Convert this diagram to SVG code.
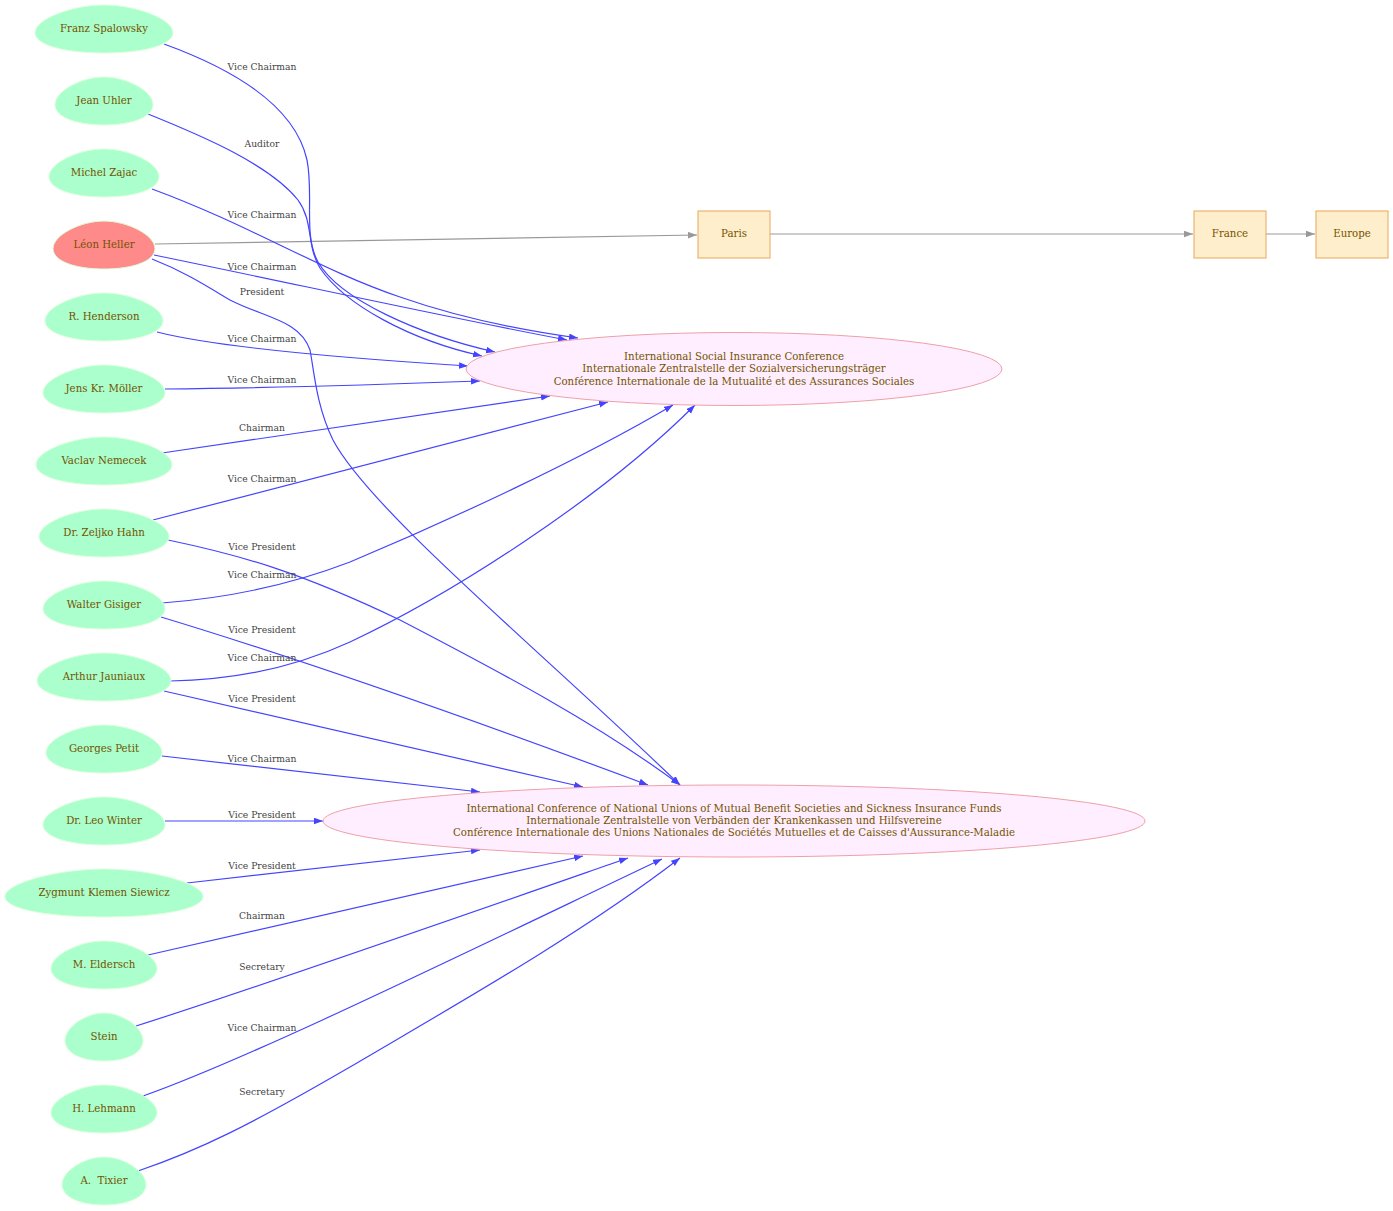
<svg xmlns="http://www.w3.org/2000/svg" xmlns:xlink="http://www.w3.org/1999/xlink" width="1393" height="1211" viewBox="0 0 1393 1211">
<style>
.nt{font-family:"DejaVu Serif","Liberation Serif",serif;font-size:10.2px;fill:#735300;text-anchor:middle}
.lb{font-family:"DejaVu Serif","Liberation Serif",serif;font-size:9.2px;fill:#444;text-anchor:middle}
.person{fill:#aaffcc;stroke:#ddffdd;stroke-width:1}
.hl{fill:#ff8a8a;stroke:#ddffdd;stroke-width:1}
.org{fill:#ffeeff;stroke:#eea0a8;stroke-width:1}
.place{fill:#ffeecc;stroke:#e8a858;stroke-width:1}
.e{fill:none;stroke:#4444ff;stroke-width:1.2;marker-end:url(#ab)}
.g{fill:none;stroke:#999;stroke-width:1.2;marker-end:url(#ag)}
</style>
<defs>
<path id="egg" vector-effect="non-scaling-stroke" d="M1,0.15 C1,-0.425 0.45,-1 0,-1 C-0.45,-1 -1,-0.425 -1,0.15 C-1,0.65 -0.6,1 0,1 C0.6,1 1,0.65 1,0.15 Z"/>
<marker id="ab" markerUnits="userSpaceOnUse" markerWidth="10" markerHeight="8" refX="9" refY="3.3" orient="auto"><path d="M0,0 L9,3.3 L0,6.6 Z" fill="#4444ff"/></marker>
<marker id="ag" markerUnits="userSpaceOnUse" markerWidth="10" markerHeight="8" refX="9" refY="3.3" orient="auto"><path d="M0,0 L9,3.3 L0,6.6 Z" fill="#999"/></marker>
</defs>
<rect width="1393" height="1211" fill="#fff"/>
<g id="connectors">
<path class="g" d="M155,244 L697,235"/>
<path class="g" d="M770,234 L1193,234"/>
<path class="g" d="M1266,234 L1315,234"/>
<path class="e" d="M164,44 C230,68 295,105 307,160 C314,195 303,235 318,262 C340,300 420,335 495,352"/>
<path class="e" d="M148,114 C205,137 270,165 298,200 C314,222 306,245 320,268 C345,305 410,340 482,356"/>
<path class="e" d="M152,189 C250,225 320,270 400,297 C460,318 520,330 578,338"/>
<path class="e" d="M154,255 C300,285 450,318 567,340"/>
<path class="e" d="M152,259 C185,272 205,285 230,300 C265,318 300,320 310,350 C314,370 316,405 333,440 C370,510 540,650 680,785"/>
<path class="e" d="M157,332 C220,348 340,358 468,366"/>
<path class="e" d="M165,389 C260,388 370,385 480,381"/>
<path class="e" d="M162,453 L550,396"/>
<path class="e" d="M153,520 L608,402"/>
<path class="e" d="M168,540 C240,555 300,572 400,620 C500,672 600,725 680,785"/>
<path class="e" d="M162,603 C230,598 290,585 350,562 C450,520 580,460 673,405"/>
<path class="e" d="M161,617 C260,647 420,700 648,785"/>
<path class="e" d="M170,681 C240,680 300,665 350,642 C450,595 600,500 695,405"/>
<path class="e" d="M164,691 L583,787"/>
<path class="e" d="M162,756 L480,792"/>
<path class="e" d="M165,821 L323,821"/>
<path class="e" d="M187,883 L480,850"/>
<path class="e" d="M148,955 L583,856"/>
<path class="e" d="M136,1026 C250,990 450,920 628,858"/>
<path class="e" d="M143,1096 C250,1058 450,960 662,859"/>
<path class="e" d="M138,1171 C200,1150 250,1125 350,1067 C450,1008 580,935 680,858"/>
<text class="lb" x="262" y="70">Vice Chairman</text>
<text class="lb" x="262" y="147">Auditor</text>
<text class="lb" x="262" y="218">Vice Chairman</text>
<text class="lb" x="262" y="270">Vice Chairman</text>
<text class="lb" x="262" y="295">President</text>
<text class="lb" x="262" y="342">Vice Chairman</text>
<text class="lb" x="262" y="383">Vice Chairman</text>
<text class="lb" x="262" y="431">Chairman</text>
<text class="lb" x="262" y="482">Vice Chairman</text>
<text class="lb" x="262" y="550">Vice President</text>
<text class="lb" x="262" y="578">Vice Chairman</text>
<text class="lb" x="262" y="633">Vice President</text>
<text class="lb" x="262" y="661">Vice Chairman</text>
<text class="lb" x="262" y="702">Vice President</text>
<text class="lb" x="262" y="762">Vice Chairman</text>
<text class="lb" x="262" y="818">Vice President</text>
<text class="lb" x="262" y="869">Vice President</text>
<text class="lb" x="262" y="919">Chairman</text>
<text class="lb" x="262" y="970">Secretary</text>
<text class="lb" x="262" y="1031">Vice Chairman</text>
<text class="lb" x="262" y="1095">Secretary</text>
</g>
<g id="n_spalowsky"><use xlink:href="#egg" href="#egg" class="person" transform="translate(104,29) scale(69,24)"/><text class="nt" x="104" y="32">Franz Spalowsky</text></g>
<g id="n_uhler"><use xlink:href="#egg" href="#egg" class="person" transform="translate(104,101) scale(49,24)"/><text class="nt" x="104" y="104">Jean Uhler</text></g>
<g id="n_zajac"><use xlink:href="#egg" href="#egg" class="person" transform="translate(104,173) scale(55,24)"/><text class="nt" x="104" y="176">Michel Zajac</text></g>
<g id="n_heller"><use xlink:href="#egg" href="#egg" class="hl" transform="translate(104,245) scale(51,24)"/><text class="nt" x="104" y="248">Léon Heller</text></g>
<g id="n_henderson"><use xlink:href="#egg" href="#egg" class="person" transform="translate(104,317) scale(59,24)"/><text class="nt" x="104" y="320">R. Henderson</text></g>
<g id="n_moller"><use xlink:href="#egg" href="#egg" class="person" transform="translate(104,389) scale(61,24)"/><text class="nt" x="104" y="392">Jens Kr. Möller</text></g>
<g id="n_nemecek"><use xlink:href="#egg" href="#egg" class="person" transform="translate(104,461) scale(68,24)"/><text class="nt" x="104" y="464">Vaclav Nemecek</text></g>
<g id="n_hahn"><use xlink:href="#egg" href="#egg" class="person" transform="translate(104,533) scale(65,24)"/><text class="nt" x="104" y="536">Dr. Zeljko Hahn</text></g>
<g id="n_gisiger"><use xlink:href="#egg" href="#egg" class="person" transform="translate(104,605) scale(61,24)"/><text class="nt" x="104" y="608">Walter Gisiger</text></g>
<g id="n_jauniaux"><use xlink:href="#egg" href="#egg" class="person" transform="translate(104,677) scale(67,24)"/><text class="nt" x="104" y="680">Arthur Jauniaux</text></g>
<g id="n_petit"><use xlink:href="#egg" href="#egg" class="person" transform="translate(104,749) scale(58,24)"/><text class="nt" x="104" y="752">Georges Petit</text></g>
<g id="n_winter"><use xlink:href="#egg" href="#egg" class="person" transform="translate(104,821) scale(61,24)"/><text class="nt" x="104" y="824">Dr. Leo Winter</text></g>
<g id="n_siewicz"><use xlink:href="#egg" href="#egg" class="person" transform="translate(104,893) scale(99,24)"/><text class="nt" x="104" y="896">Zygmunt Klemen Siewicz</text></g>
<g id="n_eldersch"><use xlink:href="#egg" href="#egg" class="person" transform="translate(104,965) scale(53,24)"/><text class="nt" x="104" y="968">M. Eldersch</text></g>
<g id="n_stein"><use xlink:href="#egg" href="#egg" class="person" transform="translate(104,1037) scale(39,24)"/><text class="nt" x="104" y="1040">Stein</text></g>
<g id="n_lehmann"><use xlink:href="#egg" href="#egg" class="person" transform="translate(104,1109) scale(53,24)"/><text class="nt" x="104" y="1112">H. Lehmann</text></g>
<g id="n_tixier"><use xlink:href="#egg" href="#egg" class="person" transform="translate(104,1181) scale(42,24)"/><text class="nt" x="104" y="1184" xml:space="preserve">A.  Tixier</text></g>
<g id="n_isic"><ellipse class="org" cx="734" cy="369" rx="268" ry="36.5"/>
<text class="nt" x="734" y="359.5">International Social Insurance Conference</text>
<text class="nt" x="734" y="372">Internationale Zentralstelle der Sozialversicherungsträger</text>
<text class="nt" x="734" y="384.5">Conférence Internationale de la Mutualité et des Assurances Sociales</text></g>
<g id="n_icnu"><ellipse class="org" cx="734" cy="821" rx="411" ry="36"/>
<text class="nt" x="734" y="811.5">International Conference of National Unions of Mutual Benefit Societies and Sickness Insurance Funds</text>
<text class="nt" x="734" y="823.5">Internationale Zentralstelle von Verbänden der Krankenkassen und Hilfsvereine</text>
<text class="nt" x="734" y="835.5">Conférence Internationale des Unions Nationales de Sociétés Mutuelles et de Caisses d'Aussurance-Maladie</text></g>
<g id="n_paris"><rect class="place" x="698" y="211" width="72" height="47"/><text class="nt" x="734" y="237">Paris</text></g>
<g id="n_france"><rect class="place" x="1194" y="211" width="72" height="47"/><text class="nt" x="1230" y="237">France</text></g>
<g id="n_europe"><rect class="place" x="1316" y="211" width="72" height="47"/><text class="nt" x="1352" y="237">Europe</text></g>
</svg>
